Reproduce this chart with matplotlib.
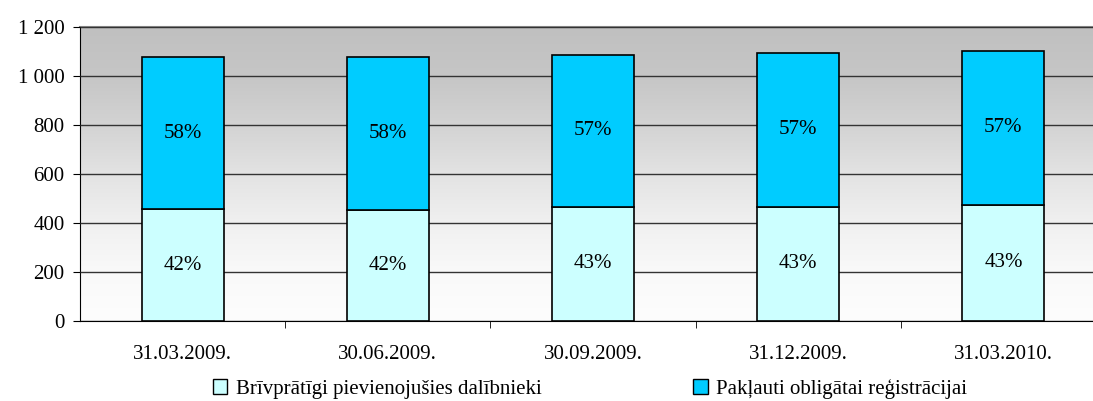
import matplotlib
matplotlib.use("Agg")
import matplotlib.pyplot as plt
import numpy as np
from matplotlib.ticker import FuncFormatter, FixedLocator
from matplotlib.patches import Patch

dates = ["31.03.2009.", "30.06.2009.", "30.09.2009.", "31.12.2009.", "31.03.2010."]
voluntary = [456, 455, 467, 466, 474]
mandatory = [622, 623, 619, 628, 628]
labels = ["Brīvprātīgi pievienojušies dalībnieki", "Pakļauti obligātai reģistrācijai"]

plt.rcParams['font.family'] = ['Liberation Serif', 'DejaVu Serif']
plt.rcParams['font.size'] = 15

fig = plt.figure(figsize=(10.93, 4.01), dpi=100)
ax = fig.add_axes([80 / 1093, 80 / 401, 1026 / 1093, 294 / 401])

# grey to white background gradient (bottom -> top)
grad = np.linspace(0, 1, 256).reshape(-1, 1)
stops = [(0.0, "#fdfdfd"), (1 / 6, "#f9f9f9"), (2 / 6, "#f0f0f0"), (3 / 6, "#e3e3e3"),
         (4 / 6, "#d3d3d3"), (5 / 6, "#c6c6c6"), (1.0, "#c0c0c0")]
cmap = matplotlib.colors.LinearSegmentedColormap.from_list("bg", stops, N=256)
ax.imshow(grad, cmap=cmap, aspect="auto", extent=[0, 1, 0, 1], origin="lower",
          transform=ax.transAxes, zorder=0)

x = np.arange(len(dates))
total = [v + m for v, m in zip(voluntary, mandatory)]
ax.bar(x, voluntary, 0.4, color="#ccffff", edgecolor="black", linewidth=1.2, zorder=3)
ax.bar(x, mandatory, 0.4, bottom=voluntary, color="#00ccff", edgecolor="black", linewidth=1.2, zorder=3)

for i in range(len(x)):
    ax.text(x[i], voluntary[i] / 2, "%d%%" % round(100 * voluntary[i] / total[i]),
            ha="center", va="center", zorder=4)
    ax.text(x[i], voluntary[i] + mandatory[i] / 2, "%d%%" % round(100 * mandatory[i] / total[i]),
            ha="center", va="center", zorder=4)

ax.set_xlim(-0.5, len(dates) - 0.5)
ax.set_ylim(0, 1200)
ax.set_yticks(range(0, 1201, 200))
ax.yaxis.set_major_formatter(FuncFormatter(lambda v, p: "{:,}".format(int(v)).replace(",", " ")))
ax.yaxis.grid(True, color="#333333", linewidth=1)
ax.set_axisbelow(False)
for gl in ax.get_ygridlines():
    gl.set_zorder(1)

ax.set_xticks(x)
ax.set_xticklabels(dates)
ax.xaxis.set_minor_locator(FixedLocator(np.arange(0.5, len(dates) - 0.5, 1)))
ax.tick_params(axis="x", which="major", length=0, pad=17)
ax.tick_params(axis="x", which="minor", length=5, direction="out", color="black")
ax.tick_params(axis="y", length=5, pad=6, color="black")

ax.spines["top"].set_color("#808080")
ax.spines["top"].set_linewidth(1.5)
ax.spines["right"].set_visible(False)
ax.spines["left"].set_color("black")
ax.spines["bottom"].set_color("black")

handles = [Patch(facecolor="#ccffff", edgecolor="black"), Patch(facecolor="#00ccff", edgecolor="black")]
fig.legend(handles, labels, loc="center", bbox_to_anchor=(590 / 1093, 1 - 389 / 401), ncol=2,
           frameon=False, handlelength=0.7, handleheight=0.7, handletextpad=0.4, columnspacing=7.3)

fig.savefig("out.png", dpi=100)
